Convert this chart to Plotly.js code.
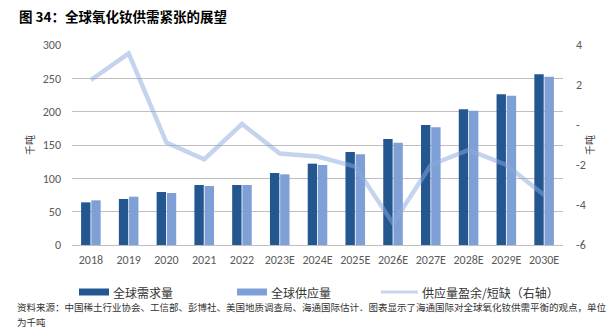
<!DOCTYPE html>
<html><head><meta charset="utf-8">
<script src="https://cdn.plot.ly/plotly-3.0.1.min.js"></script>
<style>body{margin:0;background:#fff}#c{width:615px;height:330px}</style>
</head><body><div id="c"></div>
<script>
const categories = ["2018","2019","2020","2021","2022","2023E","2024E","2025E","2026E","2027E","2028E","2029E","2030E"];
const demand = [64, 69, 79.5, 90, 90, 108, 122, 139.5, 159, 180, 203.5, 226, 256];
const supply = [67, 72.5, 78, 88.5, 90, 106, 120, 136, 153.5, 176.5, 201.5, 224, 252.5];
const balance = [2.25, 3.58, -0.88, -1.72, 0.05, -1.43, -1.58, -2.08, -4.92, -2.0, -1.25, -2.0, -3.5];
const leftTicks = [0, 50, 100, 150, 200, 250, 300];
const rightTickVals = [4, 2, 0, -2, -4, -6];
const rightTickText = ["4", "2", "-", "-2", "-4", "-6"];
const seriesNames = ['全球需求量', '全球供应量', '供应量盈余/短缺（右轴）'];
const cjk = '"Noto Sans CJK SC", "Noto Sans", sans-serif';
const lat = 'Calibri, "Liberation Sans", "Noto Sans", sans-serif';

const W = 615, H = 330, L = 72, R = 52, T = 45, B = 85;
const pw = W - L - R, ph = H - T - B;
const px = x => (x - L) / pw;          // pixel -> paper x
const py = y => (H - B - y) / ph;      // pixel -> paper y

const traces = [
  {type:'bar', name:seriesNames[0], x:categories, y:demand, marker:{color:'#245690'}, yaxis:'y'},
  {type:'bar', name:seriesNames[1], x:categories, y:supply, marker:{color:'#7FA0D6'}, yaxis:'y'},
  {type:'scatter', mode:'lines', name:seriesNames[2], x:categories, y:balance, yaxis:'y2',
   line:{color:'rgba(140,170,222,0.5)', width:4.5}}
];

const legendItems = [
  {x0:79, x1:109, color:'#245690', h:7, tx:111},
  {x0:237, x1:267, color:'#7FA0D6', h:7, tx:269},
  {x0:381, x1:418, color:'#C9D6EE', h:3, tx:420}
];
const ly = 292;
const shapes = legendItems.map(it => ({type:'rect', xref:'paper', yref:'paper',
  x0:px(it.x0), x1:px(it.x1), y0:py(ly + it.h/2), y1:py(ly - it.h/2), fillcolor:it.color, line:{width:0}}));
const legendText = legendItems.map((it, i) => ({text:seriesNames[i], xref:'paper', yref:'paper',
  x:px(it.tx), y:py(ly), xanchor:'left', yanchor:'middle', showarrow:false,
  font:{family:cjk, size:12, color:'#333'}}));

const layout = {
  width:W, height:H,
  margin:{l:L, r:R, t:T, b:B},
  paper_bgcolor:'#fff', plot_bgcolor:'#fff',
  barmode:'group', bargap:0.46, bargroupgap:0.08,
  showlegend:false,
  title:{text:'<b>图 34：全球氧化钕供需紧张的展望</b>', x:19/W, xref:'container', xanchor:'left',
         y:1-17/H, yref:'container', yanchor:'middle', font:{family:cjk, size:13.5, color:'#000'}},
  xaxis:{type:'category', tickfont:{family:lat, size:12, color:'#595959'}, showgrid:false, showline:false,
         ticks:'', ticklen:0, ticklabelstandoff:6},
  yaxis:{range:[0,300], tickvals:leftTicks, tickfont:{family:lat, size:12, color:'#595959'},
         gridcolor:'#BFBFBF', gridwidth:1, zeroline:true, zerolinecolor:'#BFBFBF', showline:false, ticks:'',
         ticklabelstandoff:10,
         title:{text:'千吨', font:{family:cjk, size:10, color:'#404040'}, standoff:6}},
  yaxis2:{range:[-6,4], overlaying:'y', side:'right', tickvals:rightTickVals, ticktext:rightTickText,
          tickfont:{family:lat, size:12, color:'#595959'}, showgrid:false, zeroline:false, showline:false, ticks:'',
          ticklabelstandoff:12,
          title:{text:'千吨', font:{family:cjk, size:10, color:'#404040'}, standoff:2}},
  shapes:shapes,
  annotations:legendText.concat([
    {text:'资料来源：中国稀土行业协会、工信部、彭博社、美国地质调查局、海通国际估计．图表显示了海通国际对全球氧化钕供需平衡的观点，单位',
     xref:'paper', yref:'paper', x:px(15), y:py(307), xanchor:'left', yanchor:'middle', showarrow:false,
     font:{family:cjk, size:9.5, color:'#333'}},
    {text:'为千吨', xref:'paper', yref:'paper', x:px(15), y:py(322), xanchor:'left', yanchor:'middle', showarrow:false,
     font:{family:cjk, size:9.5, color:'#333'}}
  ])
};
Plotly.newPlot('c', traces, layout, {displayModeBar:false, staticPlot:true});
</script></body></html>
